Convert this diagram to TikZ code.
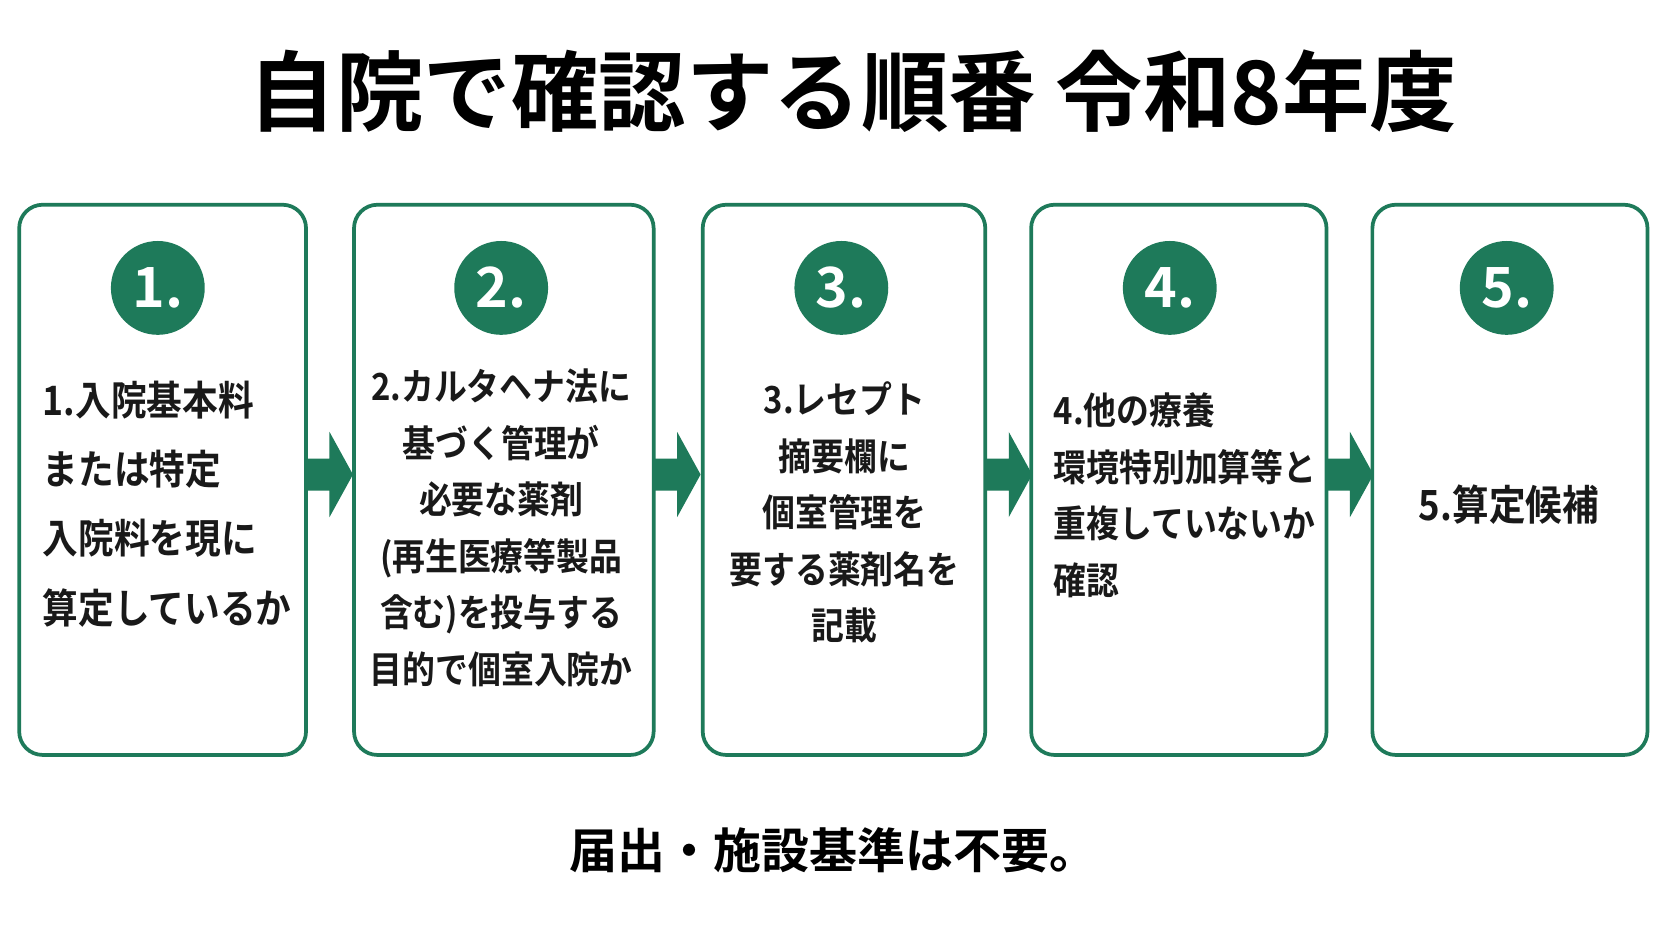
\documentclass[tikz,border=0pt]{standalone}
\usepackage{fontspec}
\setmainfont{Noto Sans CJK JP}[BoldFont={Noto Sans CJK JP Bold}]
\newfontfamily\condjp{Noto Sans CJK JP Bold}[FakeStretch=0.88]
\usetikzlibrary{arrows.meta}
\definecolor{g}{HTML}{1E7A5A}
\begin{document}
\begin{tikzpicture}[x=1pt,y=-1pt,
 box/.style={draw=g,line width=3.5pt,rounded corners=22pt,fill=white},
 num/.style={circle,fill=g,minimum size=88pt,inner sep=0,text=white,font=\fontsize{52}{52}\selectfont\bfseries},
 txt/.style={font=\fontsize{35}{53}\condjp,text=black!90,inner sep=0},
 arr/.style={fill=g,draw=none}]
\useasboundingbox (0,0) rectangle (1568,882);
\fill[white] (0,0) rectangle (1568,882);
\node[font=\fontsize{82}{82}\selectfont\bfseries] (title) at (800,86) {自院で確認する順番 令和8年度};
\foreach \n/\a/\b/\c in {1/18/287/148,2/332/613/470,3/659/924/789,4/967/1244/1097,5/1287/1545/1413}{
 \draw[box] (\a,192) rectangle (\b,708);
 \node[num] (c\n) at (\c,270) {\n.};
}
\foreach \x in {287,613,924,1244}{
 \fill[arr] (\x,430)--(\x+22,430)--(\x+22,405)--(\x+44,445)--(\x+22,485)--(\x+22,460)--(\x,460)--cycle;
}
\node[txt,font=\fontsize{38}{65}\condjp,align=left,anchor=north west] (t1) at (40,357) {1.入院基本料\\または特定\\入院料を現に\\算定しているか};
\node[txt,align=center,anchor=north] (t2) at (470,346) {2.カルタヘナ法に\\基づく管理が\\必要な薬剤\\(再生医療等製品\\含む)を投与する\\目的で個室入院か};
\node[txt,align=center,anchor=north] (t3) at (792,358) {3.レセプト\\摘要欄に\\個室管理を\\要する薬剤名を\\記載};
\node[txt,align=left,anchor=north west] (t4) at (988,368) {4.他の療養\\環境特別加算等と\\重複していないか\\確認};
\node[txt,font=\fontsize{39}{39}\condjp] (t5) at (1415,473) {5.算定候補};
\node[font=\fontsize{45}{45}\selectfont\bfseries] (foot) at (782,797) {届出・施設基準は不要。};
\end{tikzpicture}
\end{document}
